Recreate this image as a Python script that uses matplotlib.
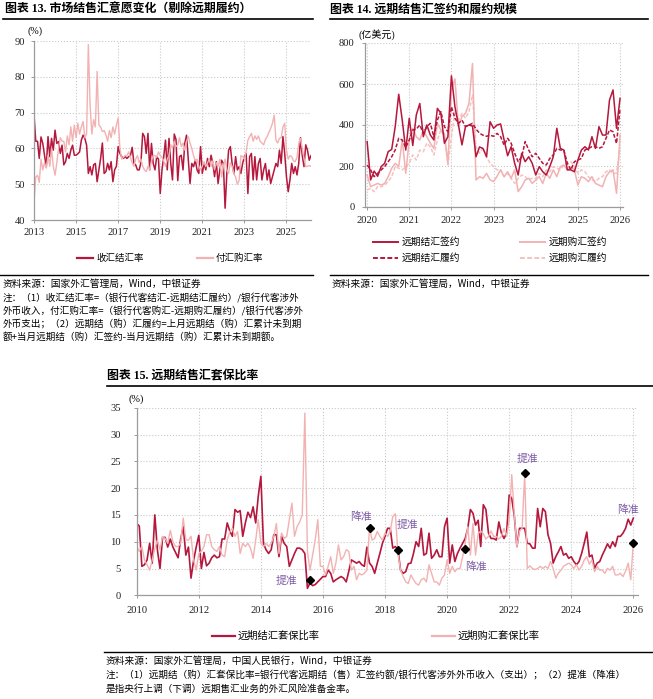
import numpy as np
import matplotlib
matplotlib.use('Agg')
import matplotlib.pyplot as plt
from matplotlib.lines import Line2D

plt.rcParams['font.family'] = ['Noto Sans CJK SC', 'DejaVu Sans']

# ---------------- data ----------------
# chart 13: monthly from 2013-01
settle_rate = [
    69.5, 62, 62, 57.2, 63.2, 61.4, 58.1, 54.8, 63.3, 57.7, 62.8, 59.5,
    65.1, 61.4, 61.9, 58.6, 60.9, 55.4, 56.3, 58.6, 57.2, 59.5, 60.9, 58.1,
    58.1, 58.5, 59, 62.3, 63.7, 62.8, 60.9, 53, 54.9, 52.6, 55.4, 55.8,
    50.7, 54, 57.2, 61.5, 53, 53.5, 55.8, 54, 56.3, 50.7, 54, 55,
    60.5, 58.6, 57.7, 57.2, 57.7, 57.2, 57.7, 58, 60.3, 55.8, 55.4, 54,
    54, 56, 64.2, 63.3, 58.6, 64.2, 54, 61.4, 55.8, 54, 57.7, 57,
    47.4, 54, 57.7, 62.3, 54, 62.8, 55.8, 51.2, 64, 62.5, 51, 57.7,
    58.1, 54, 61.4, 63.7, 57, 50.2, 55.8, 54.9, 56.7, 54, 53, 60.5,
    53, 55.8, 54, 57.2, 54.9, 58.1, 55.8, 52.1, 56.3, 50.2, 54, 56.7,
    55.8, 43.3, 53, 59.5, 60.5, 55.8, 53, 57.7, 54, 54.9, 53, 55.8,
    57.7, 58.6, 47.4, 57.7, 58.6, 51.2, 57.7, 51.2, 55.8, 57.2, 51.2, 54,
    55.8, 51.2, 54, 50.2, 52.1, 54, 55.8, 54.9, 59.5, 55.8, 63.3, 58.6,
    52.1, 47.9, 51.2, 55.8, 53, 54.9, 52.6, 55.8, 63, 58.1, 54.9, 61,
    59.5, 56.7, 58,
]
purchase_rate = [
    45, 52, 52.5, 50.5, 57, 54, 56, 54.5, 58, 55, 60, 55,
    52.5, 56, 60, 63, 62, 62, 59, 63.5, 61, 66, 62, 66.5,
    63, 67, 64, 66, 67.5, 63, 64, 89, 72, 64, 68, 66,
    81.5, 66.5, 66, 64.7, 65, 63.8, 62, 65, 63, 66, 64, 66.5,
    68.5, 60, 57, 57.5, 58, 58, 59, 57.5, 56, 55, 57, 58,
    56, 57, 55, 54, 53.5, 55, 54, 56.5, 58, 58, 57.5, 59,
    58, 57.5, 56.5, 55, 57, 58, 61, 60, 62, 60.5, 61, 63,
    60.5, 61.5, 59.5, 62, 63.3, 61.5, 60, 58, 56.5, 57, 55, 54,
    55, 56.3, 54.9, 56, 57, 55, 56.5, 54, 56, 55, 57, 52,
    55, 57, 54, 53, 56, 55, 53, 52, 50, 51, 58, 57.7,
    57, 59, 62.3, 63.3, 64.2, 62, 63.5, 62.5, 63.5, 62, 61.5, 61,
    62.5, 63.3, 64.5, 65.6, 67, 69.3, 62.3, 61.5, 62.8, 63, 66, 67,
    59.5, 57, 58, 57.7, 56.5, 56.3, 57.5, 61.4, 62.8, 60, 57.2, 54.9,
    55, 55.2, 55,
]

# chart 14: monthly from 2020-01, 100 million USD
fwd_settle_sign = [
    319, 132, 175, 150, 197, 213, 270, 281, 392, 550, 424, 278,
    433, 300, 449, 505, 343, 400, 351, 327, 481, 457, 311, 343,
    640, 489, 400, 303, 392, 400, 395, 245, 293, 285, 245, 416,
    384, 400, 405, 327, 250, 294, 213, 156, 262, 221, 245, 213,
    156, 197, 172, 156, 197, 245, 384, 286, 278, 181, 181, 172,
    229, 278, 294, 278, 343, 286, 392, 351, 351, 522, 571, 384,
    530,
]
fwd_purchase_sign = [
    156, 99, 107, 115, 107, 115, 148, 189, 213, 197, 327, 164,
    327, 384, 343, 327, 376, 343, 311, 286, 408, 376, 359, 213,
    571, 625, 392, 441, 457, 506, 700, 132, 148, 140, 164, 132,
    124, 150, 181, 148, 172, 140, 181, 75, 99, 132, 140, 115,
    132, 148, 115, 164, 140, 181, 148, 197, 205, 181, 197, 181,
    107, 148, 140, 124, 148, 115, 107, 99, 148, 172, 181, 67,
    351,
]
fwd_settle_deliv = [
    205, 181, 148, 164, 181, 197, 221, 245, 278, 335, 327, 290,
    327, 376, 380, 400, 359, 392, 408, 343, 424, 465, 392, 367,
    489, 433, 408, 424, 392, 400, 408, 380, 360, 350, 345, 350,
    345, 359, 343, 302, 335, 311, 262, 221, 245, 319, 278, 245,
    262, 237, 213, 205, 237, 254, 286, 278, 278, 213, 181, 221,
    229, 237, 278, 286, 294, 294, 286, 294, 335, 376, 367, 310,
    481,
]
fwd_purchase_deliv = [
    83, 91, 75, 99, 99, 107, 124, 148, 197, 189, 181, 197,
    213, 254, 229, 278, 270, 311, 294, 254, 327, 376, 343, 205,
    343, 465, 424, 457, 433, 465, 546, 294, 262, 290, 245, 213,
    197, 181, 181, 148, 164, 140, 115, 140, 156, 148, 132, 140,
    140, 164, 148, 181, 172, 197, 189, 181, 205, 213, 221, 197,
    164, 181, 172, 148, 132, 124, 140, 148, 172, 181, 164, 164,
    290,
]

# chart 15: monthly from 2010-01, %
hedge_settle = [
    13.4, 12.9, 5.4, 5.7, 6.6, 9.7, 6, 15, 8.5, 5, 10.8, 10.8,
    9, 10.5, 9, 8, 7, 10.5, 12.8, 7.5, 9, 3.2, 6.5, 9,
    11.2, 5, 8, 5.5, 6, 7, 7.5, 7, 7.2, 10.5, 10.5, 13.5,
    12, 11, 16, 15.5, 15.8, 11, 13.5, 15.5, 14.5, 16.5, 13.5, 18.5,
    22.2, 9.7, 8.5, 7.8, 8.5, 11.3, 11.3, 7.2, 11, 9.7, 9.1, 5.4,
    6.6, 7.8, 8.8, 8.8, 8.5, 7.8, 1.3, 2.3, 1.8, 2, 2.5, 3,
    3.5, 3.5, 4.7, 4.1, 2.5, 2.9, 3.2, 3.5, 3.2, 2.5, 4.5, 6.6,
    6.3, 6, 6.3, 5.7, 5.4, 9, 6, 5.4, 4.1, 6, 7.8, 9.7,
    11, 12.5, 12.5, 8.8, 9.1, 8.5, 4.7, 4.1, 4.4, 5.9, 6, 7.8,
    10, 9.1, 12.5, 7.5, 7.8, 11.6, 6.9, 7.5, 8.5, 7.2, 7.2, 12.8,
    14.4, 6, 9.4, 6.3, 7.8, 8.8, 9.7, 10.6, 12.5, 16, 15.3, 13.1,
    14, 9.1, 16.9, 16, 11.6, 10.6, 10.6, 10.3, 13.7, 11.6, 10.6, 11.6,
    18.7, 18.1, 14.7, 9.1, 12.5, 12.5, 12.5, 9.7, 9.6, 8.8, 8.8, 16.2,
    12.8, 16.2, 15.6, 11.3, 9.7, 6, 7.2, 8.1, 9.1, 7.5, 7.8, 6.9,
    7.2, 6.3, 5.7, 6.3, 7.8, 9.7, 11.8, 7.2, 7.5, 5, 6, 6.3,
    7.5, 8.5, 9.6, 8.8, 10, 9.1, 11, 11, 11.6, 12.5, 14.2, 13.1,
    14.4,
]
hedge_purchase = [
    9.1, 8.2, 9.1, 6.6, 5.7, 4.7, 6.6, 8.8, 10.3, 8.5, 11, 10.6,
    9.7, 12.1, 10, 9.1, 9.1, 9.7, 14.4, 10.3, 10.3, 11, 6.6, 4.7,
    7.8, 8.2, 9.1, 11.3, 11.3, 9.1, 8.5, 8.2, 9.1, 7.5, 7.2, 10.3,
    11.9, 12.5, 11, 11.9, 7.8, 9.7, 9.1, 9.7, 8.8, 6.9, 10.3, 14.1,
    9.7, 9.1, 9.7, 9.1, 9.7, 11, 13.4, 7.8, 11.6, 10.6, 11, 14.1,
    17.2, 11, 12.8, 13.7, 15, 34, 8.2, 4.7, 7.5, 10.3, 14.1, 5.4,
    5.4, 3.8, 5.4, 7.2, 4.1, 6, 9.4, 6.6, 7.2, 8.5, 8.2, 4.7,
    5.4, 2.9, 4.1, 3.8, 4.1, 4.7, 12.6, 10.3, 10.6, 11.9, 11, 10.3,
    11.6, 11, 11.9, 14.7, 15.2, 7.8, 4.7, 3.5, 2.5, 2.2, 3.8, 2.9,
    2.2, 1.9, 2.9, 3.2, 2.5, 5.7, 4.1, 2.5, 2.5, 1.9, 3.2, 3.8,
    6.6, 4.1, 5.4, 4.4, 5, 5, 7.2, 9.7, 12.8, 7.5, 13.4, 7.5,
    11.5, 12, 11.5, 10.5, 11, 12, 11, 11, 10.5, 11, 12.5, 11,
    14, 22.5, 15, 9, 12, 12.5, 22.5, 5, 5.5, 5, 4.8, 5,
    5.4, 5, 5.4, 5, 6.3, 5, 3.2, 4.1, 4.7, 5.4, 5.7, 6,
    5.7, 5, 5.7, 4.7, 5.4, 6.6, 7.2, 5.8, 6.6, 4.4, 5.4, 4.7,
    4.7, 4.1, 5, 4.7, 5.4, 3.8, 3.8, 4.1, 3.5, 4.5, 6, 2.9,
    9.8,
]

# FX risk reserve changes (提准 = raise, 降准 = cut)
event_dates = [2015 + 7 / 12, 2017 + 6 / 12, 2018 + 5 / 12, 2020 + 7 / 12, 2022 + 6 / 12, 2026.0]
event_vals = [2.9, 12.6, 8.5, 8.7, 22.8, 9.8]
event_labels = ['提准', '降准', '提准', '降准', '提准', '降准']
event_offsets = [(-17, -1), (-6, 8), (7, 18), (8, -13), (2, 10), (-4, 24)]  # points

# ---------------- style ----------------
W, H = 653, 699
DARK = '#b5173d'
LIGHT = '#f2b2b2'
LIGHT2 = '#f5c2c2'
PURPLE = '#7d5ba6'
GRID = '#c9c9c9'
SPINE = '#9c9c9c'
SERIF = 'Liberation Serif'
CJK = 'Noto Sans CJK SC'

fig = plt.figure(figsize=(W / 100, H / 100), dpi=100)


def box(l, t, r, b):
    return [l / W, 1 - b / H, (r - l) / W, (b - t) / H]


def hline(x0, x1, y, lw=1.2, color='black', ls='-'):
    fig.add_artist(Line2D([x0 / W, x1 / W], [1 - y / H, 1 - y / H], color=color,
                          lw=lw, ls=ls, transform=fig.transFigure))


def txt(x, y, s, size=7.2, family=CJK, **kw):
    fig.text(x / W, 1 - y / H, s, fontsize=size, va='center', family=family, **kw)


def style(ax, pad_y=4, pad_x=4):
    for s in ['top', 'right']:
        ax.spines[s].set_visible(False)
    for s in ['left', 'bottom']:
        ax.spines[s].set_color(SPINE)
        ax.spines[s].set_linewidth(0.9)
    ax.grid(True, ls=':', color=GRID, lw=0.8)
    ax.set_axisbelow(True)
    ax.tick_params(axis='both', length=2.5, width=0.7, color=SPINE,
                   labelsize=7.6, labelcolor='#222222', labelfontfamily=SERIF)
    ax.tick_params(axis='y', pad=pad_y)
    ax.tick_params(axis='x', pad=pad_x)


# ---------------- chart 13 ----------------
txt(5, 10, '图表 13. 市场结售汇意愿变化（剔除远期履约）', size=8.6, family=[SERIF, CJK], weight='bold')
hline(3, 313, 18.5)
ax1 = fig.add_axes(box(34, 41, 311, 220))
x13 = 2013 + np.arange(len(settle_rate)) / 12
ax1.plot(x13, settle_rate, color=DARK, lw=1.1)
ax1.plot(x13, purchase_rate, color=LIGHT, lw=1.0)
ax1.set_xlim(2013, x13[-1])
ax1.set_ylim(40, 90)
ax1.set_xticks(range(2013, 2026, 2))
ax1.set_yticks(range(40, 91, 10))
style(ax1, pad_y=4, pad_x=3)
txt(35, 31, '(%)', size=7.2, family=SERIF, ha='center')

hline(77, 93, 258, lw=1.6, color=DARK)
txt(96, 258, '收汇结汇率', size=6.8)
hline(197, 213, 258, lw=1.6, color=LIGHT)
txt(216, 258, '付汇购汇率', size=6.8)

hline(0, 313, 275, lw=1.0)
txt(3, 284, '资料来源：国家外汇管理局，Wind，中银证券', size=7.0)
notes13 = [
    '注：（1）收汇结汇率=（银行代客结汇-远期结汇履约）/银行代客涉外',
    '外币收入，付汇购汇率=（银行代客购汇-远期购汇履约）/银行代客涉外',
    '外币支出；（2）远期结（购）汇履约=上月远期结（购）汇累计未到期',
    '额+当月远期结（购）汇签约-当月远期结（购）汇累计未到期额。',
]
for i, line in enumerate(notes13):
    txt(3, 298 + 13 * i, line, size=6.9)

# ---------------- chart 14 ----------------
txt(330, 10, '图表 14. 远期结售汇签约和履约规模', size=8.6, family=[SERIF, CJK], weight='bold')
hline(330, 648, 18.5)
ax2 = fig.add_axes(box(365, 43, 623, 207))
x14 = 2020 + np.arange(len(fwd_settle_sign)) / 12
dash = (0, (2.5, 1.2))
ax2.plot(x14, fwd_purchase_deliv, color=LIGHT2, lw=1.1, ls=dash)
ax2.plot(x14, fwd_purchase_sign, color=LIGHT, lw=1.1)
ax2.plot(x14, fwd_settle_deliv, color=DARK, lw=1.1, ls=dash)
ax2.plot(x14, fwd_settle_sign, color=DARK, lw=1.1)
ax2.set_xlim(2019.95, 2026.07)
ax2.set_ylim(0, 800)
ax2.set_xticks(range(2020, 2027))
ax2.set_yticks(range(0, 801, 200))
style(ax2, pad_y=5, pad_x=4)
txt(377, 35, '(亿美元)', size=7.2, family=[SERIF, CJK], ha='center')

legend14 = [
    (373, 242, DARK, '-', '远期结汇签约'),
    (520, 242, LIGHT, '-', '远期购汇签约'),
    (373, 258, DARK, (0, (2.5, 1.2)), '远期结汇履约'),
    (520, 258, LIGHT2, (0, (2.5, 1.2)), '远期购汇履约'),
]
for lx, ly, c, ls, lab in legend14:
    hline(lx, lx + 25, ly, lw=1.4, color=c, ls=ls)
    txt(lx + 29, ly, lab, size=7.0)

hline(330, 648, 275, lw=1.0)
txt(332, 284, '资料来源：国家外汇管理局，Wind，中银证券', size=7.0)

# ---------------- chart 15 ----------------
txt(107, 375, '图表 15. 远期结售汇套保比率', size=8.6, family=[SERIF, CJK], weight='bold')
hline(107, 653, 385.5)
ax3 = fig.add_axes(box(136.7, 407.7, 638, 595.3))
x15 = 2010 + np.arange(len(hedge_settle)) / 12
ax3.plot(x15, hedge_settle, color=DARK, lw=1.2)
ax3.plot(x15, hedge_purchase, color=LIGHT, lw=1.0)
ax3.plot(event_dates, event_vals, ls='none', marker='D', ms=4.5, color='black')
for ex, ey, lab, off in zip(event_dates, event_vals, event_labels, event_offsets):
    ax3.annotate(lab, (ex, ey), xytext=off, textcoords='offset points',
                 ha='center', va='center', fontsize=7.8, color=PURPLE, family=CJK)
ax3.set_xlim(2010, 2026.15)
ax3.set_ylim(0, 35)
ax3.set_xticks(range(2010, 2027, 2))
ax3.set_yticks(range(0, 36, 5))
style(ax3, pad_y=9, pad_x=5)
txt(136, 399, '(%)', size=7.4, family=SERIF, ha='center')

hline(212, 235, 636, lw=1.6, color=DARK)
txt(238, 636, '远期结汇套保比率', size=7.4)
hline(432, 455, 636, lw=1.6, color=LIGHT)
txt(458, 636, '远期购汇套保比率', size=7.4)

hline(104, 653, 651.5, lw=1.0)
txt(106, 661, '资料来源：国家外汇管理局，中国人民银行，Wind，中银证券', size=7.0)
txt(106, 675, '注：（1）远期结（购）汇套保比率=银行代客远期结（售）汇签约额/银行代客涉外外币收入（支出）；（2）提准（降准）', size=6.9)
txt(106, 689, '是指央行上调（下调）远期售汇业务的外汇风险准备金率。', size=6.9)

fig.savefig('out.png', dpi=100)
